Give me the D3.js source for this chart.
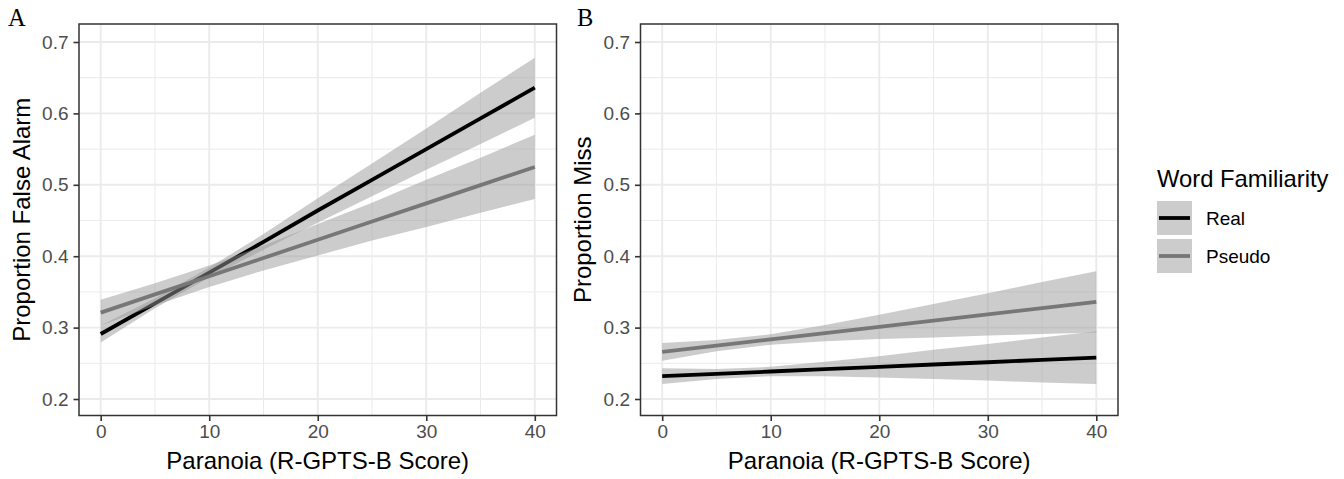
<!DOCTYPE html>
<html>
<head>
<meta charset="utf-8">
<script src="https://cdn.jsdelivr.net/npm/d3@7"></script>
<style>
  body { margin: 0; background: #fff; }
  text { font-family: "Liberation Sans", Arial, sans-serif; }
</style>
</head>
<body>
<svg id="chart" width="1344" height="479"></svg>
<script>
// paranoia scores where the fitted values were read
const xs = [0, 5, 10, 15, 20, 25, 30, 35, 40];
const xTicks = [0, 10, 20, 30, 40];
const yTicks = [0.2, 0.3, 0.4, 0.5, 0.6, 0.7];

// panel A: proportion false alarm
const realFA   = [0.291, 0.334, 0.377, 0.420, 0.464, 0.507, 0.550, 0.593, 0.636];
const realFALo = [0.279, 0.327, 0.370, 0.409, 0.447, 0.484, 0.521, 0.557, 0.594];
const realFAHi = [0.303, 0.341, 0.384, 0.431, 0.481, 0.530, 0.579, 0.629, 0.678];
const pseudoFA   = [0.321, 0.3465, 0.372, 0.3975, 0.423, 0.4485, 0.474, 0.4995, 0.525];
const pseudoFALo = [0.303, 0.331, 0.357, 0.380, 0.401, 0.422, 0.441, 0.461, 0.480];
const pseudoFAHi = [0.339, 0.362, 0.387, 0.415, 0.445, 0.475, 0.507, 0.538, 0.570];

// panel B: proportion miss
const realMiss   = [0.232, 0.2353, 0.2385, 0.2418, 0.245, 0.2483, 0.2515, 0.2548, 0.258];
const realMissLo = [0.221, 0.228, 0.232, 0.232, 0.230, 0.228, 0.226, 0.223, 0.221];
const realMissHi = [0.243, 0.242, 0.245, 0.252, 0.260, 0.269, 0.277, 0.286, 0.295];
const pseudoMiss   = [0.266, 0.2748, 0.2835, 0.2923, 0.301, 0.3098, 0.3185, 0.3273, 0.336];
const pseudoMissLo = [0.2535, 0.267, 0.276, 0.281, 0.284, 0.286, 0.289, 0.291, 0.293];
const pseudoMissHi = [0.2785, 0.2825, 0.2906, 0.3037, 0.318, 0.333, 0.348, 0.364, 0.379];

const groups = ["Real", "Pseudo"];
const lineColor = { Real: "#000000", Pseudo: "#777777" };

const svg = d3.select("#chart");

function drawPanel(opts) {
	const x = d3.scaleLinear().domain([-2, 42]).range([opts.left, opts.right]);
	const y = d3.scaleLinear().domain([0.2, 0.7]).range([399, 42]);
	const top = 24, bottom = 415.5;
	const g = svg.append("g");

	// grid
	const minorX = [5, 15, 25, 35];
	const minorY = [0.25, 0.35, 0.45, 0.55, 0.65];
	g.selectAll(".mx").data(minorX).enter().append("line")
		.attr("x1", d => x(d)).attr("x2", d => x(d)).attr("y1", top).attr("y2", bottom)
		.attr("stroke", "#ebebeb").attr("stroke-width", 1);
	g.selectAll(".my").data(minorY).enter().append("line")
		.attr("x1", opts.left).attr("x2", opts.right).attr("y1", d => y(d)).attr("y2", d => y(d))
		.attr("stroke", "#ebebeb").attr("stroke-width", 1);
	g.selectAll(".gx").data(xTicks).enter().append("line")
		.attr("x1", d => x(d)).attr("x2", d => x(d)).attr("y1", top).attr("y2", bottom)
		.attr("stroke", "#ebebeb").attr("stroke-width", 1.9);
	g.selectAll(".gy").data(yTicks).enter().append("line")
		.attr("x1", opts.left).attr("x2", opts.right).attr("y1", d => y(d)).attr("y2", d => y(d))
		.attr("stroke", "#ebebeb").attr("stroke-width", 1.9);

	const area = d3.area()
		.x((d, i) => x(xs[i]))
		.y0(d => y(d[0]))
		.y1(d => y(d[1]));
	const line = d3.line()
		.x((d, i) => x(xs[i]))
		.y(d => y(d));

	opts.series.forEach(s => {
		const band = s.lo.map((v, i) => [v, s.hi[i]]);
		g.append("path").attr("d", area(band))
			.attr("fill", "#999999").attr("fill-opacity", 0.5);
		g.append("path").attr("d", line(s.fit))
			.attr("fill", "none").attr("stroke", lineColor[s.name]).attr("stroke-width", 3.8);
	});

	// panel border
	g.append("rect")
		.attr("x", opts.left).attr("y", top)
		.attr("width", opts.right - opts.left).attr("height", bottom - top)
		.attr("fill", "none").attr("stroke", "#333333").attr("stroke-width", 1.5);

	// axes
	const xAxis = g.append("g")
		.attr("transform", "translate(0," + bottom + ")")
		.call(d3.axisBottom(x).tickValues(xTicks).tickSize(5.5).tickPadding(4));
	const yAxis = g.append("g")
		.attr("transform", "translate(" + opts.left + ",0)")
		.call(d3.axisLeft(y).tickValues(yTicks).tickFormat(d3.format(".1f")).tickSize(5.5).tickPadding(5));
	[xAxis, yAxis].forEach(a => {
		a.select(".domain").remove();
		a.selectAll(".tick line").attr("stroke", "#333333").attr("stroke-width", 1.6);
		a.selectAll(".tick text").attr("fill", "#4d4d4d")
			.style("font-size", "19px").style("font-family", "'Liberation Sans', Arial, sans-serif");
	});

	g.append("text")
		.attr("x", (opts.left + opts.right) / 2).attr("y", 469)
		.attr("text-anchor", "middle").style("font-size", "24px")
		.text("Paranoia (R-GPTS-B Score)");
	g.append("text")
		.attr("transform", "translate(" + opts.yTitleX + "," + ((top + bottom) / 2) + ") rotate(-90)")
		.attr("text-anchor", "middle").style("font-size", "24px")
		.text(opts.yTitle);
	g.append("text")
		.attr("x", opts.labelX).attr("y", 25.5)
		.style("font-family", "'Liberation Serif', 'Times New Roman', serif")
		.style("font-size", "24.5px")
		.text(opts.label);
}

drawPanel({
	left: 79, right: 556.5, label: "A", labelX: 8, yTitleX: 30,
	yTitle: "Proportion False Alarm",
	series: [
		{ name: "Real", fit: realFA, lo: realFALo, hi: realFAHi },
		{ name: "Pseudo", fit: pseudoFA, lo: pseudoFALo, hi: pseudoFAHi }
	]
});

drawPanel({
	left: 640.5, right: 1118, label: "B", labelX: 577, yTitleX: 591,
	yTitle: "Proportion Miss",
	series: [
		{ name: "Real", fit: realMiss, lo: realMissLo, hi: realMissHi },
		{ name: "Pseudo", fit: pseudoMiss, lo: pseudoMissLo, hi: pseudoMissHi }
	]
});

// legend
const legend = svg.append("g").attr("transform", "translate(1157,0)");
legend.append("text").attr("x", 0).attr("y", 187)
	.style("font-size", "23.8px").text("Word Familiarity");
const key = legend.selectAll(".key").data(groups).enter().append("g")
	.attr("transform", (d, i) => "translate(0," + (201 + i * 38) + ")");
key.append("rect").attr("width", 35).attr("height", 34)
	.attr("fill", "#999999").attr("fill-opacity", 0.5);
key.append("line").attr("x1", 2).attr("x2", 33).attr("y1", 17).attr("y2", 17)
	.attr("stroke", d => lineColor[d]).attr("stroke-width", 3.8);
key.append("text").attr("x", 49).attr("y", 24)
	.style("font-size", "19px").attr("fill", "#000").text(d => d);
</script>
</body>
</html>
